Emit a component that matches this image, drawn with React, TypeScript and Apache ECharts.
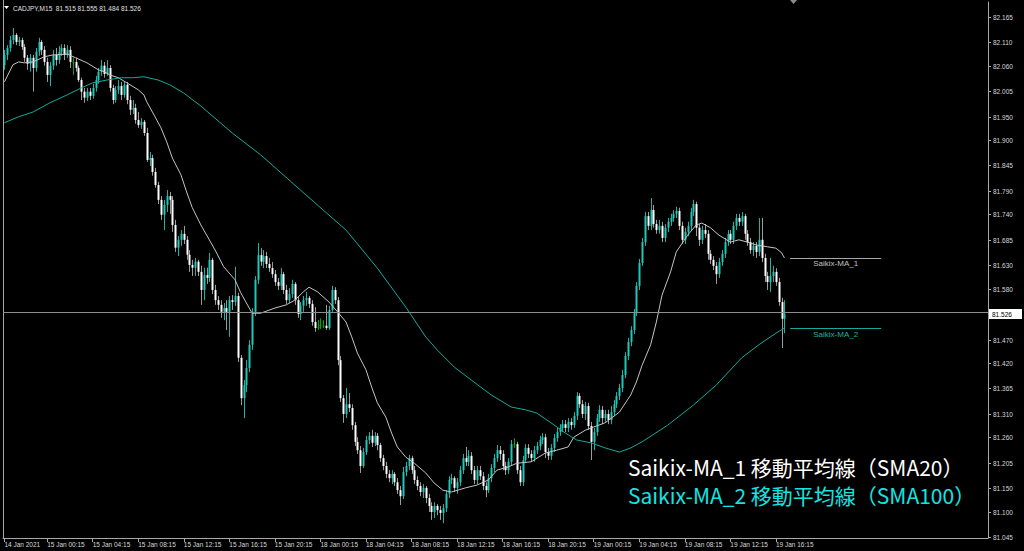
import React, { useEffect, useRef } from "react";
import * as echarts from "echarts";

// ---- Candles [open, high, low, close] (CADJPY M15) ----
const jan14: number[][] = [
  [82.061,82.094,82.051,82.083],[82.083,82.104,82.072,82.098],[82.098,82.124,82.090,82.115],
  [82.115,82.141,82.106,82.126],[82.126,82.130,82.104,82.111],[82.111,82.122,82.102,82.115],
  [82.115,82.120,82.094,82.100],[82.100,82.106,82.068,82.077],[82.077,82.083,82.051,82.064],
  [82.064,82.085,82.047,82.077],[82.077,82.083,82.004,82.055],[82.055,82.098,82.047,82.090],
  [82.090,82.120,82.081,82.111],[82.111,82.115,82.083,82.094],[82.094,82.102,82.060,82.068],
];
const jan15: number[][] = [
  [82.068,82.077,82.025,82.040],[82.040,82.068,82.016,82.060],[82.060,82.094,82.051,82.083],
  [82.083,82.098,82.060,82.072],[82.072,82.102,82.064,82.090],[82.090,82.106,82.081,82.098],
  [82.098,82.106,82.072,82.083],[82.083,82.104,82.077,82.094],[82.094,82.102,82.055,82.068],
  [82.068,82.077,82.040,82.068],[82.068,82.077,82.047,82.055],[82.055,82.060,82.025,82.029],
  [82.029,82.034,81.986,82.004],[82.004,82.012,81.980,81.991],[81.991,82.012,81.984,82.004],
  [82.004,82.012,81.986,81.995],[81.995,82.021,81.989,82.012],[82.012,82.038,82.004,82.029],
  [82.029,82.055,82.021,82.047],[82.047,82.072,82.038,82.060],[82.060,82.068,82.034,82.042],
  [82.042,82.072,82.038,82.055],[82.055,82.061,82.004,82.012],[82.012,82.019,81.977,81.986],
  [81.986,82.016,81.980,82.008],[82.008,82.029,81.999,82.016],[82.016,82.025,81.986,81.997],
  [81.997,82.025,81.991,82.019],[82.019,82.025,81.977,81.986],[81.986,81.995,81.954,81.965],
  [81.965,81.986,81.956,81.969],[81.969,81.978,81.935,81.943],[81.943,81.960,81.926,81.932],
  [81.932,81.947,81.924,81.939],[81.939,81.943,81.909,81.915],[81.915,81.926,81.853,81.857],
  [81.857,81.874,81.844,81.861],[81.861,81.868,81.823,81.831],[81.831,81.840,81.797,81.803],
  [81.803,81.810,81.762,81.771],[81.771,81.779,81.728,81.739],[81.739,81.771,81.706,81.760],
  [81.760,81.792,81.745,81.779],[81.779,81.788,81.741,81.771],[81.771,81.779,81.702,81.717],
  [81.717,81.728,81.659,81.668],[81.668,81.693,81.650,81.685],[81.685,81.706,81.672,81.698],
  [81.698,81.715,81.676,81.685],[81.685,81.693,81.642,81.653],[81.653,81.663,81.616,81.631],
  [81.631,81.642,81.607,81.625],[81.625,81.646,81.607,81.638],[81.638,81.642,81.607,81.616],
  [81.616,81.629,81.545,81.577],[81.577,81.625,81.555,81.609],[81.609,81.625,81.590,81.603],
  [81.603,81.657,81.594,81.642],[81.642,81.646,81.568,81.577],[81.577,81.588,81.545,81.555],
  [81.555,81.564,81.534,81.545],[81.545,81.555,81.517,81.530],[81.530,81.549,81.512,81.538],
  [81.538,81.555,81.491,81.530],[81.530,81.564,81.476,81.555],[81.555,81.566,81.534,81.551],
  [81.551,81.627,81.543,81.564],[81.564,81.571,81.422,81.431],[81.431,81.437,81.329,81.344],
  [81.344,81.383,81.301,81.372],[81.372,81.426,81.357,81.409],[81.409,81.469,81.400,81.459],
  [81.459,81.538,81.448,81.530],[81.530,81.607,81.521,81.599],[81.599,81.678,81.590,81.652],
  [81.652,81.667,81.629,81.638],[81.638,81.663,81.624,81.650],[81.650,81.659,81.624,81.633],
  [81.633,81.646,81.616,81.624],[81.624,81.637,81.603,81.611],[81.611,81.620,81.586,81.594],
  [81.594,81.603,81.577,81.586],[81.586,81.624,81.577,81.611],[81.611,81.616,81.568,81.577],
  [81.577,81.588,81.547,81.555],[81.555,81.581,81.549,81.568],[81.568,81.599,81.560,81.590],
  [81.590,81.594,81.545,81.555],[81.555,81.564,81.517,81.525],[81.525,81.551,81.512,81.543],
  [81.543,81.564,81.530,81.555],[81.555,81.573,81.543,81.560],[81.560,81.564,81.538,81.547],
  [81.547,81.555,81.500,81.508],[81.508,81.540,81.487,81.495],[81.497,81.512,81.491,81.497],
];
const jan18: number[][] = [
  [81.502,81.516,81.493,81.502],[81.500,81.512,81.495,81.500],[81.500,81.545,81.491,81.495],
  [81.495,81.543,81.491,81.534],[81.534,81.586,81.530,81.577],[81.577,81.583,81.547,81.555],
  [81.555,81.562,81.415,81.426],[81.426,81.435,81.336,81.344],[81.344,81.351,81.291,81.310],
  [81.310,81.366,81.301,81.331],[81.331,81.355,81.314,81.323],[81.323,81.331,81.276,81.286],
  [81.286,81.293,81.241,81.250],[81.250,81.260,81.224,81.232],[81.232,81.241,81.183,81.198],
  [81.198,81.237,81.194,81.228],[81.228,81.263,81.222,81.254],[81.254,81.271,81.245,81.263],
  [81.263,81.276,81.239,81.248],[81.248,81.271,81.241,81.263],[81.263,81.269,81.232,81.243],
  [81.243,81.248,81.207,81.215],[81.215,81.222,81.189,81.198],[81.198,81.207,81.172,81.181],
  [81.181,81.189,81.163,81.172],[81.172,81.189,81.159,81.181],[81.181,81.185,81.155,81.163],
  [81.163,81.172,81.138,81.146],[81.146,81.155,81.114,81.133],[81.133,81.196,81.127,81.185],
  [81.185,81.207,81.176,81.198],[81.198,81.222,81.189,81.215],[81.215,81.220,81.181,81.189],
  [81.189,81.198,81.159,81.168],[81.168,81.176,81.146,81.155],[81.155,81.163,81.133,81.142],
  [81.142,81.159,81.129,81.151],[81.151,81.155,81.118,81.129],[81.129,81.138,81.099,81.112],
  [81.112,81.120,81.082,81.099],[81.099,81.120,81.086,81.112],[81.112,81.116,81.092,81.103],
  [81.103,81.112,81.082,81.097],[81.097,81.116,81.075,81.107],[81.107,81.146,81.099,81.138],
  [81.138,81.176,81.129,81.168],[81.168,81.181,81.159,81.172],[81.172,81.176,81.142,81.151],
  [81.151,81.172,81.138,81.163],[81.163,81.198,81.155,81.189],[81.189,81.224,81.181,81.215],
  [81.215,81.239,81.198,81.207],[81.207,81.232,81.198,81.220],[81.220,81.228,81.181,81.189],
  [81.189,81.198,81.159,81.168],[81.168,81.198,81.159,81.189],[81.189,81.198,81.168,81.176],
  [81.176,81.185,81.146,81.155],[81.155,81.163,81.131,81.146],[81.146,81.181,81.140,81.172],
  [81.172,81.202,81.163,81.194],[81.194,81.224,81.185,81.215],[81.215,81.243,81.207,81.232],
  [81.232,81.241,81.211,81.224],[81.224,81.232,81.189,81.198],[81.198,81.207,81.179,81.189],
  [81.189,81.215,81.181,81.207],[81.207,81.254,81.198,81.245],[81.245,81.258,81.237,81.245],
  [81.245,81.250,81.181,81.189],[81.189,81.198,81.155,81.163],[81.163,81.220,81.155,81.211],
  [81.211,81.245,81.207,81.237],[81.237,81.245,81.215,81.224],[81.224,81.232,81.207,81.215],
  [81.215,81.241,81.207,81.232],[81.232,81.250,81.224,81.241],[81.241,81.263,81.232,81.254],
  [81.254,81.269,81.245,81.260],[81.260,81.267,81.215,81.228],[81.228,81.237,81.211,81.220],
  [81.220,81.245,81.211,81.237],[81.237,81.267,81.228,81.258],[81.258,81.280,81.250,81.271],
  [81.271,81.288,81.263,81.280],[81.280,81.297,81.271,81.288],[81.288,81.297,81.271,81.280],
  [81.280,81.301,81.271,81.293],[81.293,81.301,81.276,81.286],[81.286,81.314,81.280,81.306],
  [81.306,81.357,81.297,81.349],[81.349,81.355,81.323,81.331],[81.331,81.340,81.301,81.310],
  [81.310,81.336,81.297,81.327],[81.327,81.334,81.276,81.284],[81.284,81.293,81.211,81.250],
];
const jan19: number[][] = [
  [81.250,81.280,81.232,81.271],[81.271,81.310,81.263,81.301],[81.301,81.329,81.293,81.319],
  [81.319,81.327,81.288,81.301],[81.301,81.319,81.293,81.310],[81.310,81.319,81.288,81.297],
  [81.297,81.327,81.288,81.314],[81.314,81.340,81.306,81.331],[81.331,81.357,81.323,81.349],
  [81.349,81.375,81.340,81.366],[81.366,81.405,81.357,81.394],[81.394,81.443,81.387,81.435],
  [81.435,81.474,81.426,81.465],[81.465,81.499,81.456,81.491],[81.491,81.536,81.482,81.527],
  [81.527,81.594,81.521,81.586],[81.586,81.644,81.577,81.635],[81.635,81.689,81.629,81.680],
  [81.680,81.745,81.672,81.736],[81.736,81.745,81.706,81.715],[81.715,81.775,81.706,81.749],
  [81.749,81.760,81.711,81.719],[81.719,81.728,81.698,81.706],[81.706,81.728,81.698,81.715],
  [81.715,81.724,81.680,81.689],[81.689,81.719,81.680,81.711],[81.711,81.732,81.702,81.724],
  [81.724,81.741,81.715,81.732],[81.732,81.749,81.724,81.741],[81.741,81.756,81.732,81.747],
  [81.747,81.754,81.706,81.715],[81.715,81.724,81.676,81.685],[81.685,81.711,81.676,81.702],
  [81.702,81.724,81.693,81.715],[81.715,81.754,81.706,81.745],[81.745,81.771,81.736,81.762],
  [81.762,81.767,81.693,81.711],[81.711,81.719,81.672,81.685],[81.685,81.715,81.676,81.706],
  [81.706,81.719,81.689,81.698],[81.698,81.706,81.642,81.655],[81.655,81.663,81.633,81.642],
  [81.642,81.650,81.620,81.629],[81.629,81.637,81.590,81.611],[81.611,81.646,81.603,81.637],
  [81.637,81.663,81.629,81.655],[81.655,81.689,81.646,81.680],[81.680,81.706,81.672,81.698],
  [81.698,81.706,81.676,81.685],[81.685,81.724,81.676,81.715],[81.715,81.741,81.706,81.732],
  [81.732,81.741,81.715,81.724],[81.724,81.745,81.715,81.736],[81.736,81.741,81.685,81.698],
  [81.698,81.706,81.672,81.680],[81.680,81.689,81.655,81.663],[81.663,81.680,81.650,81.672],
  [81.672,81.680,81.646,81.659],[81.659,81.732,81.650,81.685],[81.685,81.732,81.637,81.646],
  [81.646,81.655,81.594,81.607],[81.607,81.616,81.577,81.594],[81.594,81.646,81.573,81.607],
  [81.607,81.629,81.594,81.616],[81.616,81.624,81.586,81.594],[81.594,81.603,81.543,81.551],
  [81.551,81.560,81.452,81.515],[81.515,81.555,81.484,81.526],
];

// ---- Moving averages, read at bar index: [bar, value] ----
const sma20: number[][] = [
  [0,82.025],[3,82.062],[5,82.068],[7,82.066],[10,82.068],[14,82.079],[17,82.083],[22,82.085],
  [25,82.077],[29,82.066],[33,82.051],[35,82.047],[37,82.040],[40,82.034],[43,82.023],[47,82.008],
  [49,81.997],[50,81.982],[52,81.960],[55,81.926],[57,81.896],[59,81.861],[62,81.825],[64,81.788],
  [66,81.754],[69,81.717],[74,81.663],[77,81.627],[81,81.599],[83,81.571],[86,81.538],[87,81.527],
  [90,81.527],[95,81.538],[99,81.545],[102,81.555],[105,81.573],[107,81.583],[110,81.573],[114,81.551],
  [117,81.530],[120,81.508],[122,81.476],[124,81.441],[127,81.405],[129,81.368],[131,81.334],[134,81.303],
  [136,81.269],[138,81.239],[141,81.217],[144,81.204],[148,81.183],[151,81.161],[154,81.146],[157,81.142],
  [162,81.151],[166,81.157],[170,81.168],[173,81.189],[177,81.196],[180,81.204],[185,81.207],[190,81.226],
  [194,81.232],[198,81.239],[200,81.260],[204,81.275],[207,81.282],[211,81.291],[216,81.314],[220,81.351],
  [222,81.379],[224,81.415],[227,81.459],[229,81.508],[231,81.566],[234,81.616],[236,81.659],[240,81.695],
  [243,81.717],[245,81.721],[248,81.711],[251,81.695],[255,81.680],[258,81.685],[261,81.680],[264,81.674],
  [268,81.670],[271,81.667],[273,81.657],[274,81.646],
];
const sma100: number[][] = [
  [0,81.937],[5,81.950],[10,81.960],[16,81.980],[22,81.997],[27,82.012],[31,82.023],[36,82.029],
  [41,82.034],[45,82.034],[49,82.036],[54,82.029],[58,82.019],[63,82.001],[69,81.973],[80,81.915],
  [90,81.868],[104,81.792],[120,81.706],[131,81.624],[141,81.540],[148,81.476],[152,81.448],[158,81.411],
  [164,81.383],[171,81.351],[178,81.325],[183,81.319],[187,81.312],[192,81.291],[197,81.269],[201,81.254],
  [206,81.248],[211,81.237],[216,81.228],[220,81.237],[224,81.250],[233,81.286],[242,81.329],[250,81.372],
  [259,81.431],[265,81.459],[271,81.484],[274,81.495],
];

const currentPrice = 81.526;
const headerText = "CADJPY,M15  81.515 81.555 81.484 81.526";
const yTickValues = [82.165,82.110,82.060,82.005,81.950,81.900,81.845,81.790,81.740,81.685,81.630,
  81.580,81.470,81.420,81.365,81.310,81.260,81.205,81.150,81.100,81.045];
const yTickLabels = ["82.165","82.110","82.060","82.005","81.950","81.900","81.845","81.790","81.740",
  "81.685","81.630","81.580","81.470","81.420","81.365","81.310","81.260","81.205","81.150","81.100","81.045"];
const xTickBars = [0,15,31,47,63,79,95,111,127,143,159,175,191,207,223,239,255,271];
const xTickLabels = ["14 Jan 2021","15 Jan 00:15","15 Jan 04:15","15 Jan 08:15","15 Jan 12:15",
  "15 Jan 16:15","15 Jan 20:15","18 Jan 00:15","18 Jan 04:15","18 Jan 08:15","18 Jan 12:15",
  "18 Jan 16:15","18 Jan 20:15","19 Jan 00:15","19 Jan 04:15","19 Jan 08:15","19 Jan 12:15","19 Jan 16:15"];
const totalSlots = 346;

const SMALL_FONT = "'Liberation Sans', Arial, sans-serif";

export default function App() {
  const ref = useRef<HTMLDivElement>(null);
  useEffect(() => {
    if (!ref.current) return;
    const chart = echarts.init(ref.current, null, { renderer: "svg" });
    const candles = [...jan14, ...jan15, ...jan18, ...jan19];
    const cats = Array.from({ length: totalSlots }, (_, i) => String(i));
    const candleData = candles.map((d, i) => [i, d[0], d[1], d[2], d[3]]);
    const tickMap = new Map<number, string>(xTickBars.map((b, k) => [b, xTickLabels[k]]));
    const lastMa20 = sma20[sma20.length - 1][1];
    const lastMa100 = sma100[sma100.length - 1][1];

    chart.setOption({
      animation: false,
      backgroundColor: "#000000",
      grid: { left: 3, right: 36, top: 2, bottom: 13 },
      xAxis: {
        type: "category",
        data: cats,
        boundaryGap: true,
        axisLine: { show: true, lineStyle: { color: "#a8a8a8", width: 1 } },
        axisTick: {
          show: true,
          alignWithLabel: true,
          length: 4,
          interval: (i: number) => tickMap.has(i),
          lineStyle: { color: "#a8a8a8" },
        },
        axisLabel: {
          interval: (i: number) => tickMap.has(i),
          formatter: (_v: string, i: number) => tickMap.get(i) ?? "",
          color: "#d8d8d8",
          fontSize: 6.5,
          fontFamily: SMALL_FONT,
          align: "left",
          margin: 3,
        },
        splitLine: { show: false },
      },
      yAxis: {
        type: "value",
        position: "right",
        min: 81.043,
        max: 82.197,
        axisLine: { show: true, lineStyle: { color: "#a8a8a8", width: 1 } },
        axisTick: { show: false },
        axisLabel: { show: false },
        splitLine: { show: false },
      },
      series: [
        {
          type: "custom",
          data: candleData,
          encode: { x: 0, y: [1, 2, 3, 4] },
          renderItem: (_p: any, api: any) => {
            const i = api.value(0);
            const o = api.value(1), h = api.value(2), l = api.value(3), c = api.value(4);
            const pO = api.coord([i, o]);
            const yC = api.coord([i, c])[1];
            const yH = api.coord([i, h])[1];
            const yL = api.coord([i, l])[1];
            const doji = c === o;
            const up = c > o;
            const body = doji ? "#00a800" : up ? "#1fc9b9" : "#ffffff";
            const wick = doji ? "#00a800" : up ? "#1ab3a6" : "#9c9c9c";
            const cx = Math.round(pO[0]);
            const top = Math.min(pO[1], yC);
            const bot = Math.max(pO[1], yC);
            return {
              type: "group",
              children: [
                { type: "line", shape: { x1: cx + 0.5, y1: yH, x2: cx + 0.5, y2: yL }, style: { stroke: wick, lineWidth: 1 } },
                { type: "rect", shape: { x: cx - 0.5, y: top, width: 2, height: Math.max(1, bot - top) }, style: { fill: body } },
              ],
            };
          },
        },
        {
          type: "line",
          data: sma20,
          symbol: "none",
          lineStyle: { color: "#c4c4c4", width: 1 },
          markLine: {
            silent: true,
            symbol: ["none", "none"],
            data: [
              { yAxis: currentPrice, lineStyle: { color: "#8e8e8e", width: 1, type: "solid" }, label: { show: false } },
              [
                {
                  coord: [276, lastMa20],
                  lineStyle: { color: "#a8a8a8", width: 1, type: "solid" },
                  label: { show: true, formatter: "Saikix-MA_1", position: "insideMiddleBottom", color: "#c0c0c0", fontSize: 8, fontFamily: SMALL_FONT, distance: 2 },
                },
                { coord: [308, lastMa20] },
              ],
            ],
          },
        },
        {
          type: "line",
          data: sma100,
          symbol: "none",
          lineStyle: { color: "#14a99e", width: 1 },
          markLine: {
            silent: true,
            symbol: ["none", "none"],
            data: [
              [
                {
                  coord: [276, lastMa100],
                  lineStyle: { color: "#14a99e", width: 1, type: "solid" },
                  label: { show: true, formatter: "Saikix-MA_2", position: "insideMiddleBottom", color: "#1ab3a6", fontSize: 8, fontFamily: SMALL_FONT, distance: 2 },
                },
                { coord: [308, lastMa100] },
              ],
            ],
          },
        },
      ],
    });

    const g: any[] = [];
    yTickValues.forEach((v, k) => {
      const y = Math.round(chart.convertToPixel({ yAxisIndex: 0 }, v) as number) + 0.5;
      g.push({ type: "line", shape: { x1: 988, y1: y, x2: 991, y2: y }, style: { stroke: "#a8a8a8", lineWidth: 1 } });
      g.push({
        type: "text", x: 993, y,
        style: { text: yTickLabels[k], fill: "#d8d8d8", fontSize: 6.5, fontFamily: SMALL_FONT, align: "left", verticalAlign: "middle" },
      });
    });
    const cy = Math.round(chart.convertToPixel({ yAxisIndex: 0 }, currentPrice) as number);
    g.push({ type: "rect", shape: { x: 989, y: cy - 5, width: 33, height: 10 }, style: { fill: "#ffffff" } });
    g.push({
      type: "text", x: 992, y: cy,
      style: { text: String(currentPrice.toFixed(3)), fill: "#000000", fontSize: 6.5, fontFamily: SMALL_FONT, align: "left", verticalAlign: "middle" },
    });
    // left border of the chart window
    g.push({ type: "line", shape: { x1: 3.5, y1: 0, x2: 3.5, y2: 538 }, style: { stroke: "#a8a8a8", lineWidth: 1 } });
    // header
    g.push({ type: "polygon", shape: { points: [[4, 6], [9, 6], [6.5, 9]] }, style: { fill: "#ffffff" } });
    g.push({
      type: "text", x: 13, y: 8,
      style: { text: headerText, fill: "#e0e0e0", fontSize: 6.5, fontFamily: SMALL_FONT, align: "left", verticalAlign: "middle" },
    });
    // chart-shift marker
    g.push({ type: "polygon", shape: { points: [[790, 0], [797, 0], [793.5, 4]] }, style: { fill: "#8a8a8a" } });
    // annotation
    g.push({
      type: "text", x: 628, y: 467,
      style: { text: "Saikix-MA_1 移動平均線（SMA20）", fill: "#ffffff", fontSize: 21, fontFamily: "'Noto Sans CJK JP', sans-serif", align: "left", verticalAlign: "middle" },
    });
    g.push({
      type: "text", x: 628, y: 495,
      style: { text: "Saikix-MA_2 移動平均線（SMA100）", fill: "#16e3e3", fontSize: 21, fontFamily: "'Noto Sans CJK JP', sans-serif", align: "left", verticalAlign: "middle" },
    });
    chart.setOption({ graphic: g });

    return () => chart.dispose();
  }, []);
  return (
    <div
      ref={ref}
      style={{ position: "fixed", left: 0, top: 0, width: 1024, height: 551, background: "#000000" }}
    />
  );
}
